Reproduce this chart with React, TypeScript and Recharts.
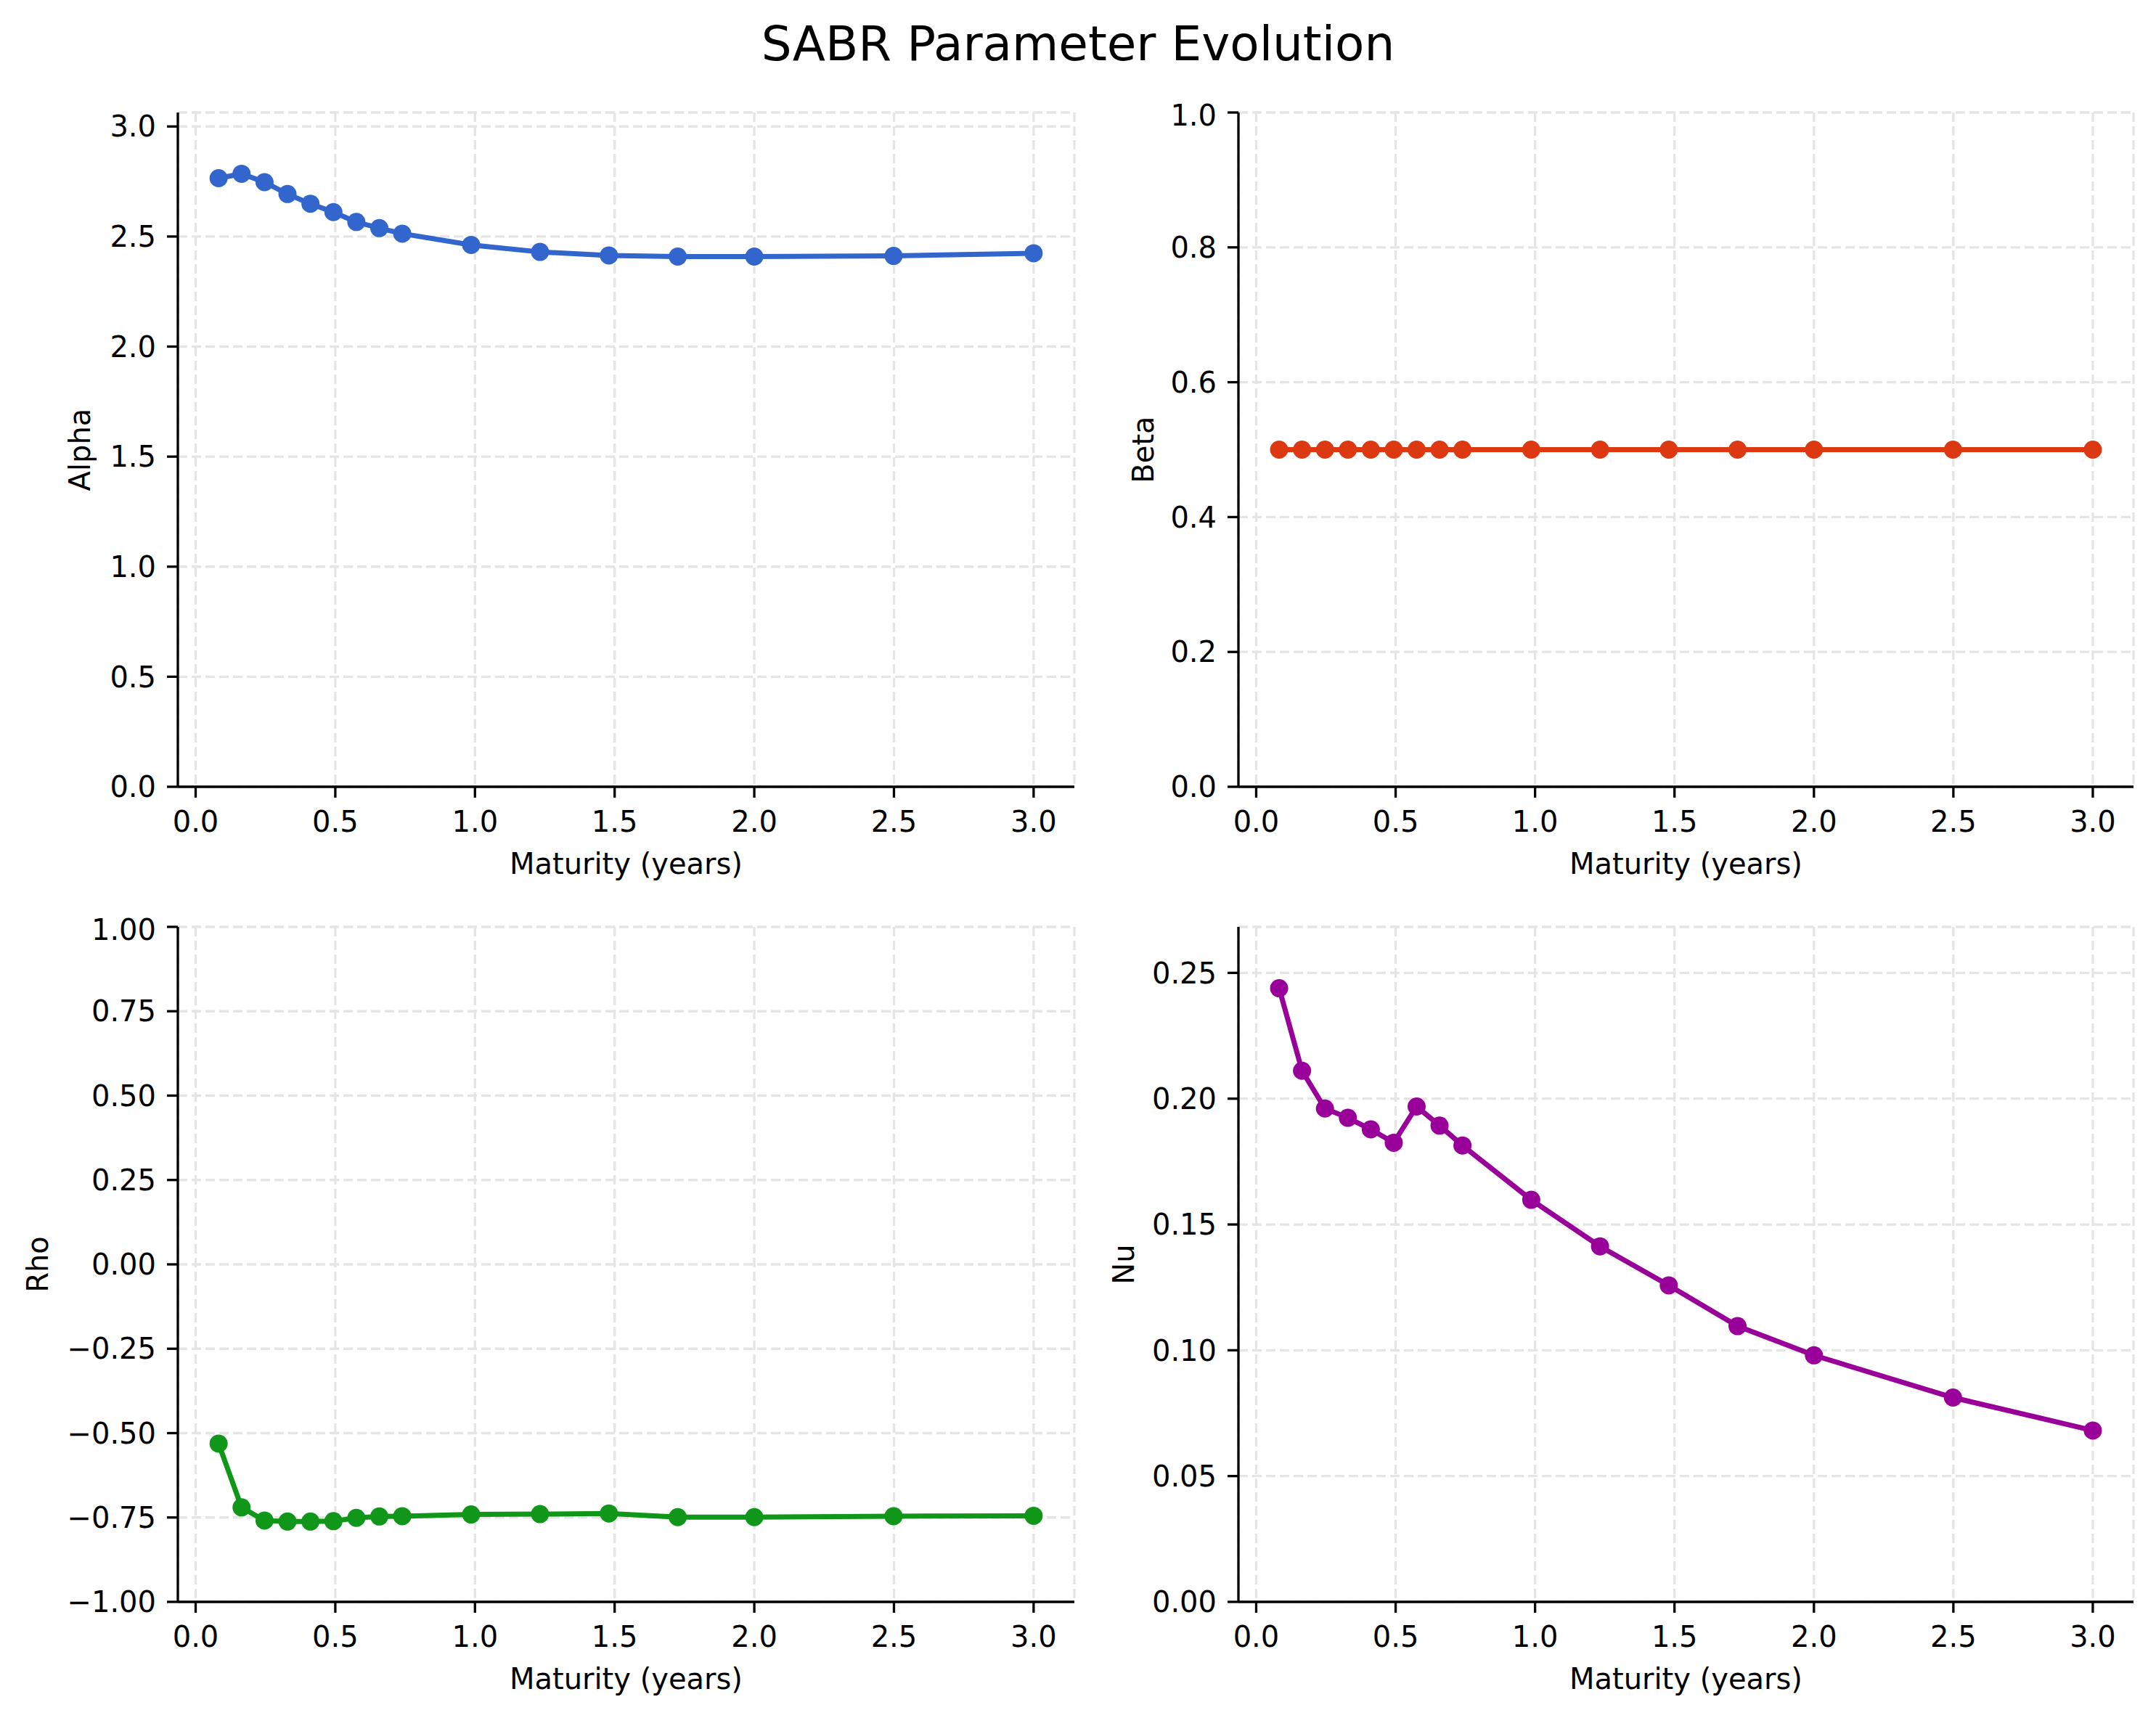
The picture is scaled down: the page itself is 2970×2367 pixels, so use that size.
import React from "react";
import { LineChart, Line, XAxis, YAxis, CartesianGrid, Label } from "recharts";

// maturities in years (roughly days / 365)
const maturities = [0.0822, 0.1644, 0.2466, 0.3288, 0.411, 0.4932, 0.5753, 0.6575, 0.7397, 0.9863, 1.2329, 1.4795, 1.726, 2.0, 2.4986, 3.0];

const alphaValues = [2.765, 2.785, 2.747, 2.693, 2.649, 2.611, 2.566, 2.538, 2.513, 2.462, 2.43, 2.414, 2.409, 2.409, 2.412, 2.424];
const betaValues = [0.5, 0.5, 0.5, 0.5, 0.5, 0.5, 0.5, 0.5, 0.5, 0.5, 0.5, 0.5, 0.5, 0.5, 0.5, 0.5];
const rhoValues = [-0.531, -0.72, -0.759, -0.762, -0.762, -0.761, -0.751, -0.747, -0.746, -0.741, -0.74, -0.738, -0.749, -0.749, -0.746, -0.745];
const nuValues = [0.2439, 0.2111, 0.1961, 0.1924, 0.1878, 0.1825, 0.1969, 0.1893, 0.1814, 0.1598, 0.1413, 0.1258, 0.1096, 0.098, 0.0812, 0.0681];

const xTicks = [0, 0.5, 1.0, 1.5, 2.0, 2.5, 3.0];
const alphaTicks = [0, 0.5, 1.0, 1.5, 2.0, 2.5, 3.0];
const betaTicks = [0, 0.2, 0.4, 0.6, 0.8, 1.0];
const rhoTicks = [-1, -0.75, -0.5, -0.25, 0, 0.25, 0.5, 0.75, 1];
const nuTicks = [0, 0.05, 0.1, 0.15, 0.2, 0.25];

const FONT = "DejaVu Sans";
const xDomain = [-0.0637, 3.1459];

const fmt = (digits: number) => (v: number) => {
    const s = Math.abs(v).toFixed(digits);
    return v < 0 ? "\u2212" + s : s;
};

// plot area offsets inside each chart svg
const Y_AXIS_W = 240;
const X_AXIS_H = 150;
const M = { top: 20, right: 30, left: 0, bottom: 0 };

function Panel(props: {
    left: number; top: number; plotW: number; plotH: number;
    values: number[]; color: string; name: string;
    domain: number[]; ticks: number[]; digits: number; labelDist: number;
}) {
    const { left, top, plotW, plotH, values, color, name, domain, ticks, digits, labelDist } = props;
    const data = maturities.map((m, i) => ({ m, v: values[i] }));
    const width = plotW + Y_AXIS_W + M.left + M.right;
    const height = plotH + X_AXIS_H + M.top + M.bottom;
    const tickStyle = { fill: "#000", fontSize: 40, fontFamily: FONT };

    return (
        <div style={{ position: "absolute", left, top }}>
            <LineChart width={width} height={height} data={data} margin={M}>
                <CartesianGrid stroke="#e5e5e5" strokeWidth={3.3} strokeDasharray="13 6" />
                <XAxis
                    dataKey="m" type="number" domain={xDomain} ticks={xTicks} allowDataOverflow
                    height={X_AXIS_H} tickFormatter={fmt(1)} tick={tickStyle}
                    stroke="#000" strokeWidth={3.3} tickSize={15} tickMargin={19}
                >
                    <Label
                        content={({ viewBox }: any) => (
                            <text x={viewBox.x + viewBox.width / 2} y={viewBox.y + 120} textAnchor="middle"
                                fontSize={40} fontFamily={FONT} fill="#000">Maturity (years)</text>
                        )}
                    />
                </XAxis>
                <YAxis
                    type="number" domain={domain} ticks={ticks} allowDataOverflow width={Y_AXIS_W}
                    tickFormatter={fmt(digits)} tick={tickStyle}
                    stroke="#000" strokeWidth={3.3} tickSize={15} tickMargin={15}
                >
                    <Label
                        content={({ viewBox }: any) => {
                            const cx = viewBox.x + viewBox.width - labelDist;
                            const cy = viewBox.y + viewBox.height / 2;
                            return (
                                <text x={cx} y={cy} transform={`rotate(-90, ${cx}, ${cy})`} textAnchor="middle"
                                    dominantBaseline="central" fontSize={40} fontFamily={FONT} fill="#000">{name}</text>
                            );
                        }}
                    />
                </YAxis>
                <Line
                    type="linear" dataKey="v" stroke={color} strokeWidth={7}
                    dot={{ r: 12.5, fill: color, stroke: color, strokeWidth: 0 }}
                    activeDot={false} isAnimationActive={false}
                />
            </LineChart>
        </div>
    );
}

export default function App() {
    return (
        <div style={{ position: "absolute", left: 0, top: 0, width: 2970, height: 2367, background: "#fff", fontFamily: FONT }}>
            <svg width={2970} height={120} style={{ position: "absolute", left: 0, top: 0 }}>
                <text x={1485} y={83} textAnchor="middle" fontSize={66} fontFamily={FONT} fill="#000">SABR Parameter Evolution</text>
            </svg>
            <Panel left={5} top={135} plotW={1235} plotH={929} values={alphaValues} color="#3366CC" name="Alpha"
                domain={[0, Math.max(...alphaValues) * 1.1]} ticks={alphaTicks} digits={1} labelDist={135} />
            <Panel left={1466} top={135} plotW={1233} plotH={929} values={betaValues} color="#DC3912" name="Beta"
                domain={[0, 1]} ticks={betaTicks} digits={1} labelDist={131} />
            <Panel left={5} top={1257} plotW={1235} plotH={930} values={rhoValues} color="#109618" name="Rho"
                domain={[-1, 1]} ticks={rhoTicks} digits={2} labelDist={193} />
            <Panel left={1466} top={1257} plotW={1233} plotH={930} values={nuValues} color="#990099" name="Nu"
                domain={[0, Math.max(...nuValues) * 1.1]} ticks={nuTicks} digits={2} labelDist={158} />
        </div>
    );
}
